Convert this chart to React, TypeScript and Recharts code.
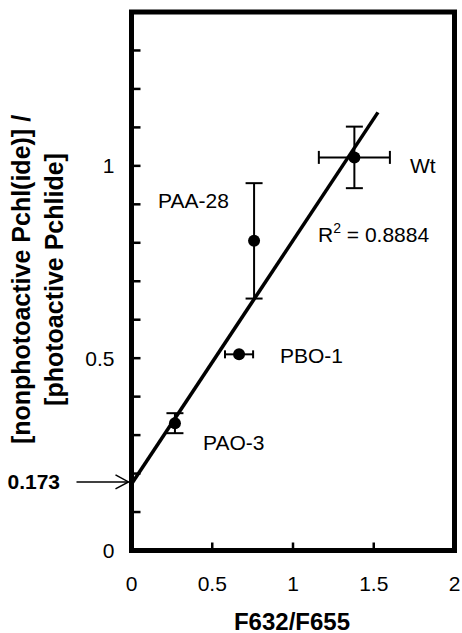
import React from 'react';
import {
  ComposedChart,
  Scatter,
  Line,
  XAxis,
  YAxis,
  ErrorBar,
  ReferenceArea,
  ReferenceDot,
} from 'recharts';

// ---- data ----
const pointLabels = ['PAO-3', 'PBO-1', 'PAA-28', 'Wt'];
const pointX = [0.269, 0.666, 0.759, 1.38];
const pointY = [0.331, 0.51, 0.805, 1.022];
const pointXErr = [0, 0.087, 0, 0.22];
const pointYErr = [0.026, 0, 0.15, 0.08];

const fitX = [0, 1.526];
const fitY = [0.173, 1.139];
const intercept = 0.173;
const rSquaredText = '0.8884';

const xTicks = [0, 0.5, 1, 1.5, 2];
const yTicks = [0, 0.1, 0.2, 0.3, 0.4, 0.5, 0.6, 0.7, 0.8, 0.9, 1, 1.1, 1.2, 1.3, 1.4];
const yLabeledTicks = [0, 0.5, 1];

const xTitle = 'F632/F655';
const yTitleLine1 = '[nonphotoactive Pchl(ide)] /';
const yTitleLine2 = '[photoactive Pchlide]';

// ---- derived rows ----
const rows = pointLabels.map((name, i) => ({
  name,
  x: pointX[i],
  y: pointY[i],
  ex: pointXErr[i],
  ey: pointYErr[i],
}));
const yOnly = rows.filter((r) => r.ex === 0 && r.ey > 0);
const both = rows.filter((r) => r.ex > 0 && r.ey > 0);
const xOnly = rows.filter((r) => r.ex > 0 && r.ey === 0);
const fitData = fitX.map((x, i) => ({ x, y: fitY[i] }));

const FONT = "Arial, 'Liberation Sans', sans-serif";

const Dot = (props: any) => {
  const { cx, cy } = props;
  if (cx == null || cy == null) return null;
  return <circle cx={cx} cy={cy} r={6} fill="#000" />;
};

const YTick = (props: any) => {
  const { x, y, payload } = props;
  const v = payload.value;
  const labeled = yLabeledTicks.some((t) => Math.abs(t - v) < 1e-9);
  return (
    <g>
      <line x1={x} y1={y} x2={x + 9} y2={y} stroke="#000" strokeWidth={2.5} />
      {labeled && (
        <text
          x={x - 17}
          y={y}
          textAnchor="end"
          dominantBaseline="central"
          fontSize={21}
          fontFamily={FONT}
          fill="#000"
        >
          {String(v)}
        </text>
      )}
    </g>
  );
};

const XTick = (props: any) => {
  const { x, y, payload } = props;
  return (
    <g>
      <line x1={x} y1={y} x2={x} y2={y - 8} stroke="#000" strokeWidth={2.5} />
      <text
        x={x}
        y={y + 33}
        textAnchor="middle"
        dominantBaseline="central"
        fontSize={21}
        fontFamily={FONT}
        fill="#000"
      >
        {String(payload.value)}
      </text>
    </g>
  );
};

const InterceptArrow = (props: any) => {
  const { cx, cy } = props;
  if (cx == null || cy == null) return null;
  return (
    <g>
      <line x1={cx - 55} y1={cy - 2} x2={cx - 3} y2={cy - 2} stroke="#000" strokeWidth={1.5} />
      <polyline
        points={`${cx - 16},${cy - 9} ${cx - 3},${cy - 2} ${cx - 16},${cy + 5}`}
        fill="none"
        stroke="#000"
        strokeWidth={1.5}
      />
      <text
        x={cx - 124}
        y={cy - 2}
        dominantBaseline="central"
        fontSize={21}
        fontWeight="bold"
        fontFamily={FONT}
        fill="#000"
      >
        {String(intercept)}
      </text>
    </g>
  );
};

export default function App() {
  return (
    <div style={{ position: 'absolute', left: 0, top: 0, width: 462, height: 633 }}>
      <ComposedChart
        width={462}
        height={633}
        margin={{ top: 12, right: 7.5, bottom: 22.5, left: 0 }}
      >
        <XAxis
          dataKey="x"
          type="number"
          domain={[0, 2]}
          ticks={xTicks}
          interval={0}
          axisLine={false}
          tickLine={false}
          tickSize={0}
          tickMargin={0}
          height={60}
          tick={<XTick />}
          allowDataOverflow
        />
        <YAxis
          dataKey="y"
          type="number"
          domain={[0, 1.4]}
          ticks={yTicks}
          interval={0}
          axisLine={false}
          tickLine={false}
          tickSize={0}
          tickMargin={0}
          width={131.5}
          tick={<YTick />}
          allowDataOverflow
        />
        <Line
          data={fitData}
          dataKey="y"
          stroke="#000"
          strokeWidth={3.5}
          dot={false}
          activeDot={false}
          isAnimationActive={false}
        />
        <Scatter data={yOnly} dataKey="y" shape={<Dot />} isAnimationActive={false}>
          <ErrorBar dataKey="ey" direction="y" width={8.5} stroke="#000" strokeWidth={2} />
        </Scatter>
        <Scatter data={both} dataKey="y" shape={<Dot />} isAnimationActive={false}>
          <ErrorBar dataKey="ey" direction="y" width={8.5} stroke="#000" strokeWidth={2} />
          <ErrorBar dataKey="ex" direction="x" width={6.5} stroke="#000" strokeWidth={2} />
        </Scatter>
        <Scatter data={xOnly} dataKey="y" shape={<Dot />} isAnimationActive={false}>
          <ErrorBar dataKey="ex" direction="x" width={4} stroke="#000" strokeWidth={2} />
        </Scatter>
        <ReferenceArea
          x1={0}
          x2={2}
          y1={0}
          y2={1.4}
          fill="none"
          fillOpacity={0}
          stroke="#000"
          strokeWidth={5}
          ifOverflow="visible"
        />
        <ReferenceDot x={0} y={intercept} ifOverflow="visible" shape={<InterceptArrow />} />
      </ComposedChart>
      <svg
        width={462}
        height={633}
        style={{ position: 'absolute', left: 0, top: 0, pointerEvents: 'none' }}
        fontFamily={FONT}
      >
        <text x={410} y={165} dominantBaseline="central" fontSize={21} fill="#000">
          {pointLabels[3]}
        </text>
        <text x={158} y={200} dominantBaseline="central" fontSize={21} fill="#000">
          {pointLabels[2]}
        </text>
        <text x={280} y={355} dominantBaseline="central" fontSize={21} fill="#000">
          {pointLabels[1]}
        </text>
        <text x={203} y={442} dominantBaseline="central" fontSize={21} fill="#000">
          {pointLabels[0]}
        </text>
        <text x={318} y={242} fontSize={21} fill="#000">
          R<tspan dy={-9} fontSize={14}>2</tspan>
          <tspan dy={9}>{' = ' + rSquaredText}</tspan>
        </text>
        <text x={292} y={621} textAnchor="middle" dominantBaseline="central" fontSize={24} fontWeight="bold" fill="#000">
          {xTitle}
        </text>
        <text
          transform="translate(30,279.5) rotate(-90)"
          textAnchor="middle"
          fontSize={25}
          fontWeight="bold"
          fill="#000"
        >
          {yTitleLine1}
        </text>
        <text
          transform="translate(63,279.5) rotate(-90)"
          textAnchor="middle"
          fontSize={25}
          fontWeight="bold"
          fill="#000"
        >
          {yTitleLine2}
        </text>
      </svg>
    </div>
  );
}
